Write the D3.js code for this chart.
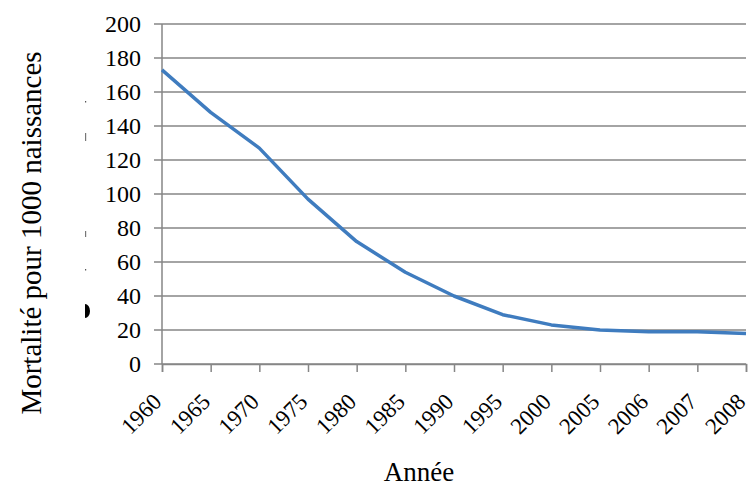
<!DOCTYPE html>
<html>
<head>
<meta charset="utf-8">
<script src="https://cdn.jsdelivr.net/npm/d3@7"></script>
<style>
  html, body { margin: 0; padding: 0; background: #fff; }
</style>
</head>
<body>
<svg id="chart" width="752" height="487" font-family="'Liberation Serif', 'DejaVu Serif', 'Times New Roman', serif"></svg>
<script>
// Infant mortality per 1000 births
const years = ["1960", "1965", "1970", "1975", "1980", "1985", "1990", "1995", "2000", "2005", "2006", "2007", "2008"];
const mortality = [173, 148, 127, 97, 72, 54, 40, 29, 23, 20, 19, 19, 18];
const yTicks = [0, 20, 40, 60, 80, 100, 120, 140, 160, 180, 200];

const yTitle = "Mortalité pour 1000 naissances";
const xTitle = "Année";

const W = 752, H = 487;
const m = { left: 162, top: 24, right: 6, bottom: 123 };
const pw = W - m.left - m.right;
const ph = H - m.top - m.bottom;
const serif = "Liberation Serif";

const svg = d3.select("#chart");
const g = svg.append("g").attr("transform", `translate(${m.left},${m.top})`);

const x = d3.scalePoint().domain(years).range([0, pw]);
const y = d3.scaleLinear().domain([0, 200]).range([ph, 0]);

const axisColor = "#868686";

// horizontal gridlines with outward ticks
g.append("g").selectAll("line")
  .data(yTicks)
  .join("line")
  .attr("x1", -8).attr("x2", pw)
  .attr("y1", d => y(d)).attr("y2", d => y(d))
  .attr("stroke", axisColor).attr("stroke-width", 1.5);

// y axis line
g.append("line")
  .attr("x1", 0).attr("x2", 0).attr("y1", 0).attr("y2", ph)
  .attr("stroke", axisColor).attr("stroke-width", 1.5);

// y tick labels
g.append("g").selectAll("text")
  .data(yTicks)
  .join("text")
  .attr("x", -21).attr("y", d => y(d))
  .attr("dy", "0.33em")
  .attr("text-anchor", "end")
  .attr("font-family", serif)
  .attr("font-size", 24)
  .text(d => d);

// x axis with ticks below
const xAxis = d3.axisBottom(x).tickSize(8).tickFormat("");
const xg = g.append("g").attr("transform", `translate(0,${ph})`).call(xAxis);
xg.select(".domain").attr("stroke", axisColor).attr("stroke-width", 1.5);
xg.selectAll(".tick line").attr("stroke", axisColor).attr("stroke-width", 1.5);

// rotated year labels
g.append("g").selectAll("text")
  .data(years)
  .join("text")
  .attr("transform", d => `translate(${x(d) + 1},${ph + 39}) rotate(-45)`)
  .attr("text-anchor", "end")
  .attr("font-family", serif)
  .attr("font-size", 23)
  .text(d => d);

// data line
const line = d3.line()
  .x((d, i) => x(years[i]))
  .y(d => y(d));

g.append("path")
  .datum(mortality)
  .attr("d", line)
  .attr("fill", "none")
  .attr("stroke", "#3F7CBF")
  .attr("stroke-width", 3.5)
  .attr("stroke-linejoin", "round");

// axis titles
svg.append("text")
  .attr("transform", "translate(41,233) rotate(-90)")
  .attr("text-anchor", "middle")
  .attr("font-family", serif)
  .attr("font-size", 29)
  .text(yTitle);

svg.append("text")
  .attr("x", 419).attr("y", 481)
  .attr("text-anchor", "middle")
  .attr("font-family", serif)
  .attr("font-size", 27)
  .text(xTitle);

// small clipped glyph fragments left of the value axis
const frag = svg.append("g").attr("fill", "#000");
frag.append("path").attr("d", "M85,304 A5,7 0 0 1 85,318 Z");
frag.append("rect").attr("x", 85).attr("y", 133).attr("width", 1.2).attr("height", 8).attr("fill", "#777");
frag.append("rect").attr("x", 85).attr("y", 231).attr("width", 1.2).attr("height", 6).attr("fill", "#777");
frag.append("rect").attr("x", 85).attr("y", 101).attr("width", 1.2).attr("height", 1.5).attr("fill", "#555");
frag.append("rect").attr("x", 85).attr("y", 269).attr("width", 1.2).attr("height", 1.5).attr("fill", "#555");
</script>
</body>
</html>
